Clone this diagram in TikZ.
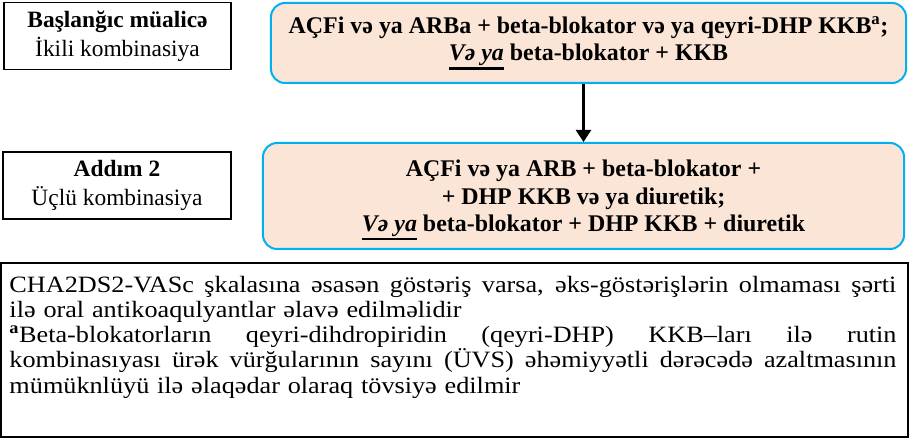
\documentclass[tikz,border=0pt]{standalone}
\usepackage{fontspec}
\setmainfont{Liberation Serif}
\newfontfamily\notefont{Liberation Serif}[FakeStretch=1.12]
\usepackage{tikz}
\usepackage{xcolor}
\usetikzlibrary{arrows.meta,positioning}
\definecolor{regline}{HTML}{00B0F0}
\definecolor{regfill}{HTML}{FBE5D6}
\hbadness=10000
\hfuzz=20pt
\newcommand\orul[1]{\leavevmode\vtop{\hbox{\itshape #1}\kern1.6bp\hrule height 2.2bp}}
\newcommand\notestyle{\notefont\fontsize{23.5}{25.3}\selectfont
  \spaceskip=.28em plus 3em minus .05em\relax}
\newcommand\fullline[1]{\leavevmode\hbox to 887bp{\notestyle #1}}

\begin{document}
\begin{tikzpicture}[x=1bp,y=-1bp,>={Triangle[length=12bp,width=15bp]},
  stagebox/.style={draw,line width=1.3bp,inner sep=0pt,align=center,
    font=\fontsize{23.5}{29.5}\selectfont},
  regimen/.style={draw=regline,fill=regfill,line width=2bp,rounded corners=14bp,
    inner sep=0pt,align=center,font=\bfseries\fontsize{24}{27.5}\selectfont},
  notebox/.style={draw,line width=1.3bp,inner sep=0pt},
  step arrow/.style={->,line width=2.4bp}]
  \useasboundingbox (0,0) rectangle (909,439);
  \node[stagebox,minimum width=227bp,minimum height=67bp] (start) at (117.5,36)
    {\textbf{Başlanğıc müalicə}\\İkili kombinasiya};
  \node[regimen,minimum width=635bp,minimum height=80bp] (dual) at (588.5,43)
    {AÇFi və ya ARBa + beta-blokator və ya qeyri-DHP KKB\textsuperscript{a};\\
     \orul{Və ya} beta-blokator + KKB};
  \node[stagebox,minimum width=228bp,minimum height=67bp] (step2) at (117,185.5)
    {\textbf{Addım 2}\\Üçlü kombinasiya};
  \node[regimen,minimum width=641bp,minimum height=106bp] (triple) at (583.5,196)
    {\rule{0pt}{25bp}AÇFi və ya ARB + beta-blokator +\\
     + DHP KKB və ya diuretik;\\
     \orul{Və ya} beta-blokator + DHP KKB + diuretik};
  \node[notebox,minimum width=907bp,minimum height=174bp] (notes) at (454.5,350) {};
  \node[text width=887bp,align=left,inner sep=0pt,font=\notestyle]
    (notetext) at (453,337)
    {\fullline{CHA2DS2-VASc şkalasına əsasən göstəriş varsa, əks-göstərişlərin olmaması şərti}\\
     ilə oral antikoaqulyantlar əlavə edilməlidir\\
     \fullline{\textsuperscript{\textbf{a}}Beta-blokatorların qeyri-dihdropiridin (qeyri-DHP) KKB–ları ilə rutin}\\
     \fullline{kombinasıyası ürək vürğularının sayını (ÜVS) əhəmiyyətli dərəcədə azaltmasının}\\
     mümüknlüyü ilə əlaqədar olaraq tövsiyə edilmir};
  \draw[step arrow] (dual.south -| triple.north) -- (triple.north);
\end{tikzpicture}
\end{document}
